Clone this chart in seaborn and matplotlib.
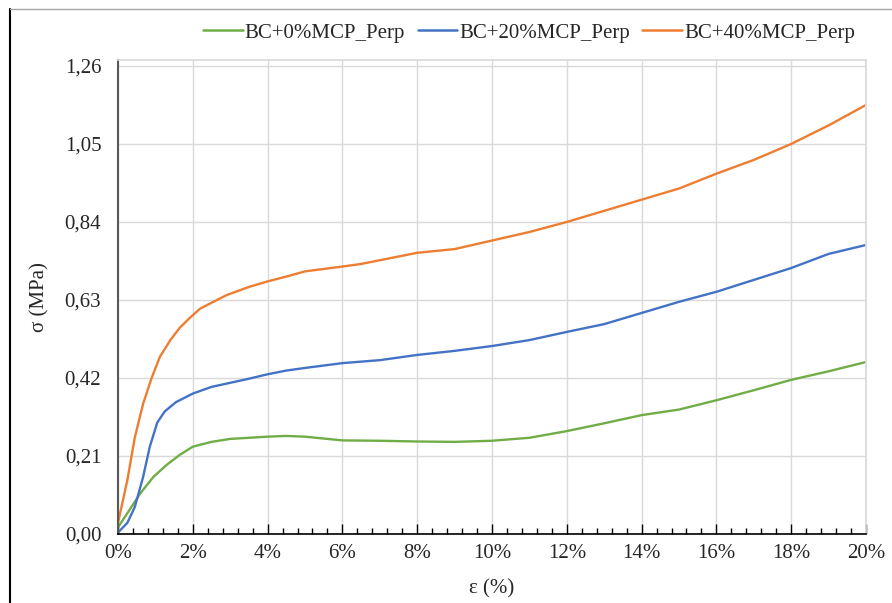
import numpy as np
import pandas as pd
import seaborn as sns
import matplotlib.pyplot as plt
from matplotlib.lines import Line2D
from matplotlib.ticker import FuncFormatter, MultipleLocator

# strain (%) and stress (MPa)
eps_0 = [0, 0.25, 0.6, 0.95, 1.3, 1.65, 2, 2.5, 3, 3.5, 4, 4.5, 5, 5.5, 6, 7, 8, 9, 10,
         11, 12, 13, 14, 15, 16, 17, 18, 19, 20]
sig_0 = [0.018, 0.056, 0.110, 0.154, 0.186, 0.213, 0.235, 0.248, 0.256, 0.259, 0.262,
         0.264, 0.262, 0.257, 0.252, 0.251, 0.249, 0.248, 0.251, 0.259, 0.277, 0.298,
         0.320, 0.335, 0.360, 0.387, 0.415, 0.438, 0.463]

eps_20 = [0, 0.25, 0.45, 0.67, 0.85, 1.05, 1.25, 1.55, 2, 2.5, 3, 3.5, 4, 4.5, 5, 6, 7,
          8, 9, 10, 11, 12, 13, 14, 15, 16, 17, 18, 19, 20]
sig_20 = [0.004, 0.030, 0.073, 0.153, 0.235, 0.300, 0.330, 0.355, 0.378, 0.396, 0.407,
          0.418, 0.430, 0.440, 0.447, 0.460, 0.468, 0.482, 0.493, 0.506, 0.522, 0.544,
          0.565, 0.595, 0.625, 0.652, 0.684, 0.716, 0.754, 0.778]

eps_40 = [0, 0.25, 0.45, 0.67, 0.9, 1.12, 1.4, 1.65, 1.9, 2.2, 2.55, 2.9, 3.5, 4, 4.5,
          5, 6, 6.5, 7, 7.5, 8, 9, 10, 11, 12, 13, 14, 15, 16, 17, 18, 19, 20]
sig_40 = [0.030, 0.145, 0.260, 0.350, 0.420, 0.477, 0.522, 0.555, 0.580, 0.607, 0.625,
          0.643, 0.665, 0.680, 0.693, 0.707, 0.720, 0.727, 0.737, 0.747, 0.757, 0.767,
          0.790, 0.813, 0.840, 0.870, 0.900, 0.930, 0.970, 1.007, 1.050, 1.100, 1.155]

labels = ["BC+0%MCP_Perp", "BC+20%MCP_Perp", "BC+40%MCP_Perp"]
colors = ["#70AD47", "#4472C4", "#ED7D31"]
y_ticks = [0, 0.21, 0.42, 0.63, 0.84, 1.05, 1.26]

df = pd.concat([
    pd.DataFrame({"eps": eps_0, "sig": sig_0, "serie": labels[0]}),
    pd.DataFrame({"eps": eps_20, "sig": sig_20, "serie": labels[1]}),
    pd.DataFrame({"eps": eps_40, "sig": sig_40, "serie": labels[2]}),
])

sns.set_theme(style="white")
plt.rcParams['font.family'] = ['Liberation Serif', 'DejaVu Serif']

fig = plt.figure(figsize=(8.92, 6.03), dpi=100)
ax = fig.add_axes([118 / 892, 1 - 534 / 603, 748 / 892, 474 / 603])

sns.lineplot(data=df, x="eps", y="sig", hue="serie", palette=colors,
             linewidth=1.7, ax=ax, legend=False, sort=False)

ax.set_xlim(0, 20)
ax.set_ylim(0, 1.276)
ax.set_yticks(y_ticks)
ax.xaxis.set_major_locator(MultipleLocator(2))
ax.xaxis.set_minor_locator(MultipleLocator(0.4))
ax.xaxis.set_major_formatter(FuncFormatter(lambda v, p: f"{v:.0f}%"))
ax.yaxis.set_major_formatter(FuncFormatter(lambda v, p: f"{v:.2f}".replace(".", ",")))
ax.grid(True, color="#D9D9D9", linewidth=1)
ax.tick_params(axis="x", which="major", direction="in", length=7, width=1,
               color="black", bottom=True, labelsize=15, pad=7)
ax.tick_params(axis="x", which="minor", direction="in", length=4, width=1,
               color="black", bottom=True)
ax.tick_params(axis="y", left=False, labelsize=15, pad=6)

for side in ["top", "right"]:
    ax.spines[side].set_color("#D9D9D9")
ax.spines["left"].set_color("#595959")
ax.spines["left"].set_linewidth(1.5)
ax.spines["bottom"].set_color("black")
ax.spines["bottom"].set_linewidth(1.2)

ax.set_xlabel("ε (%)", fontsize=15)
ax.set_ylabel("σ (MPa)", fontsize=15)
ax.xaxis.set_label_coords(0.5, -0.095)
ax.yaxis.set_label_coords(-0.092, 0.5)

handles = [Line2D([0], [0], color=c, linewidth=1.8) for c in colors]
fig.legend(handles, labels, loc="center", ncol=3, frameon=False, fontsize=15,
           bbox_to_anchor=(529 / 892, 1 - 33 / 603), handlelength=1.9,
           handletextpad=0.1, columnspacing=0.6)

# frame edges visible in the reference crop
fig.add_artist(Line2D([10 / 892, 10 / 892], [0, 1 - 9 / 603], color="black",
                      linewidth=1.5, transform=fig.transFigure))
fig.add_artist(Line2D([10 / 892, 1], [1 - 9 / 603, 1 - 9 / 603], color="#A6A6A6",
                      linewidth=1, transform=fig.transFigure))

fig.savefig("out.png", dpi=100)
